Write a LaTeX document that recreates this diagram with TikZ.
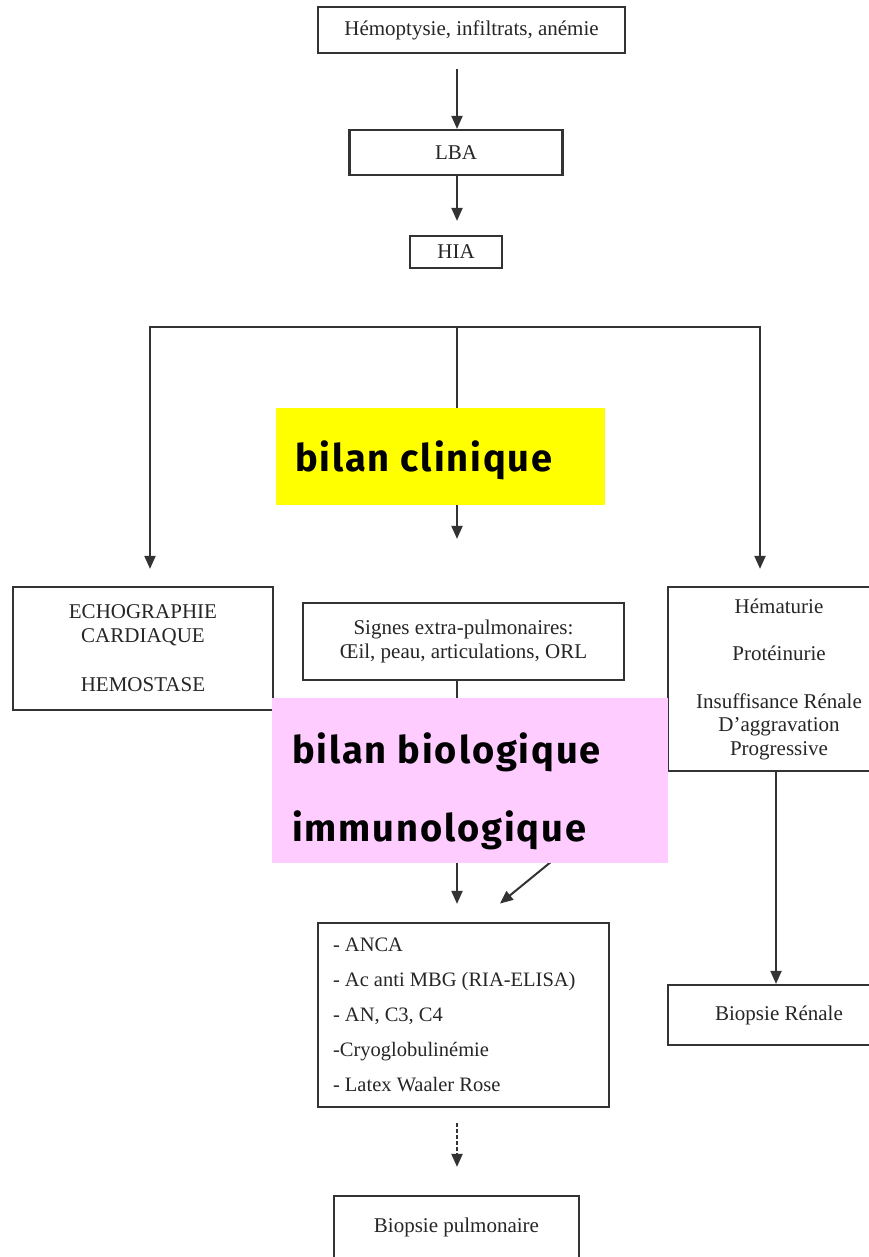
\documentclass[tikz,border=0pt]{standalone}
\usepackage{fontspec}
\setmainfont{Liberation Serif}
\newfontfamily\comicfont{Fira Sans}[LetterSpace=5]
\usetikzlibrary{positioning}
\usetikzlibrary{arrows.meta}

\definecolor{tagyellow}{RGB}{255,255,0}
\definecolor{tagpink}{RGB}{255,204,255}

\tikzset{
    stepbox/.style={rectangle, draw=black!80, line width=2.2pt, fill=white, text=black!85, inner sep=0pt, align=center, font=\fontsize{21}{23.5}\selectfont},
    arr/.style={draw=black!80, line width=2pt, -{Triangle[length=13pt,width=11pt]}},
    tagbox/.style={rectangle, inner sep=0pt},
    tagtext/.style={inner sep=0pt, align=left, font=\comicfont\bfseries\fontsize{38}{78}\selectfont},
}

\begin{document}
\begin{tikzpicture}[x=1pt, y=1pt]
    \useasboundingbox (0,0) rectangle (869,-1257);

    \node (symptoms) [stepbox, minimum width=307pt, minimum height=46pt] at (471.5,-30) {Hémoptysie, infiltrats, anémie};
    \node (lba) [stepbox, minimum width=213pt, minimum height=45pt] at (456,-152.5) {LBA};
    \node (hia) [stepbox, minimum width=92pt, minimum height=32pt] at (456,-252) {HIA};

    \node (echo) [stepbox, minimum width=260pt, minimum height=123pt] at (143,-648.5) {ECHOGRAPHIE\\CARDIAQUE\\[26pt]HEMOSTASE};
    \node (signes) [stepbox, minimum width=321pt, minimum height=77pt] at (463.5,-641.5) {Signes extra-pulmonaires:\\Œil, peau, articulations, ORL};
    \node (renal) [stepbox, minimum width=222pt, minimum height=184pt] at (779,-679) {Hématurie\\[24pt]Protéinurie\\[24pt]Insuffisance Rénale\\D’aggravation\\Progressive};

    \node (anca) [stepbox, minimum width=291pt, minimum height=184pt, text width=261pt, align=flush left, font=\fontsize{20.5}{35}\selectfont] at (463.5,-1015) {- ANCA\\- Ac anti MBG (RIA-ELISA)\\- AN, C3, C4\\-Cryoglobulinémie\\- Latex Waaler Rose};
    \node (renalbx) [stepbox, minimum width=222pt, minimum height=60pt] at (779,-1015) {Biopsie Rénale};
    \node (lungbx) [stepbox, minimum width=245pt, minimum height=62pt] at (456.5,-1227) {Biopsie pulmonaire};

    % connectors
    \coordinate (split) at (457,-327);
    \draw[arr, shorten <=15pt] (symptoms.south -| split) -- (lba.north -| split);
    \draw[arr, shorten >=14pt] (lba.south -| split) -- (hia.north -| split);
    \draw[arr, shorten >=17pt] (split) -| ([xshift=7pt]echo.north);
    \draw[arr, shorten >=17pt] (split) -| ([xshift=-19pt]renal.north);
    \draw[arr, shorten >=63pt] (split) -- (split |- signes.north);
    \draw[arr, shorten >=18pt] (signes.south -| split) -- (anca.north -| split);
    \draw[arr, shorten >=29pt] ([xshift=-6pt]renal.south west) -- ([xshift=14pt]anca.north);
    \draw[arr] ([xshift=-3pt]renal.south) -- ([xshift=-3pt]renalbx.north);
    \draw[arr, dash pattern=on 3.5pt off 2.5pt, shorten <=15pt, shorten >=28pt] (anca.south -| split) -- (lungbx.north -| split);

    % labels on top
    \node (clinique) [tagbox, fill=tagyellow, minimum width=329pt, minimum height=97pt] at (440.5,-456.5) {};
    \node (cliniquetext) [tagtext, right=19pt of clinique.west, yshift=-4pt] {bilan clinique};
    \node (biologique) [tagbox, fill=tagpink, minimum width=396pt, minimum height=165pt] at (470,-780.5) {};
    \node (biologiquetext) [tagtext, right=20pt of biologique.west, yshift=-11pt] {bilan biologique\\immunologique};
\end{tikzpicture}
\end{document}
